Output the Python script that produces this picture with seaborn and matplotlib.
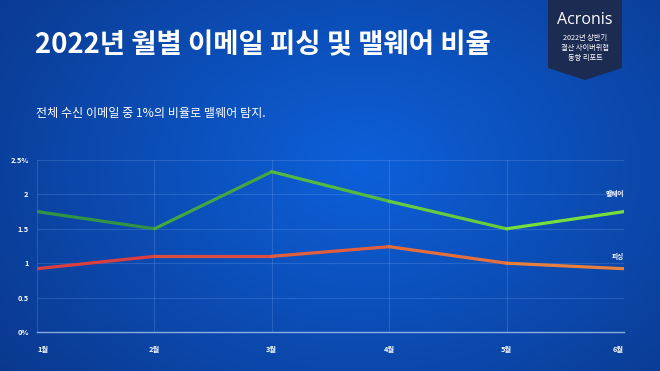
import numpy as np
import pandas as pd
import matplotlib
matplotlib.use("Agg")
import matplotlib.pyplot as plt
import seaborn as sns
from matplotlib.colors import to_rgb
from matplotlib.patches import Polygon

months = ["1월", "2월", "3월", "4월", "5월", "6월"]
malware = [1.75, 1.50, 2.33, 1.90, 1.50, 1.75]
phishing = [0.92, 1.10, 1.10, 1.24, 1.00, 0.92]
ytick_vals = [0, 0.5, 1, 1.5, 2, 2.5]
ytick_labels = ["0%", "0.5", "1", "1.5", "2", "2.5%"]

title = "2022년 월별 이메일 피싱 및 맬웨어 비율"
subtitle = "전체 수신 이메일 중 1%의 비율로 맬웨어 탐지."

sns.set_theme(style="white")
plt.rcParams['font.family'] = ['Noto Sans CJK KR', 'DejaVu Sans']

fig = plt.figure(figsize=(6.6, 3.71), dpi=100)

# background radial gradient
bg = fig.add_axes([0, 0, 1, 1], zorder=-10)
bg.axis("off")
H, W = 371, 660
yy, xx = np.mgrid[0:H, 0:W]
cx, cy = 0.55 * W, 0.45 * H
d = np.sqrt(((xx - cx) / W) ** 2 + ((yy - cy) / (H * 1.3)) ** 2)
d = np.clip(d / 0.75, 0, 1)
c_center = np.array(to_rgb("#0d60da"))
c_edge = np.array(to_rgb("#0a3587"))
img = c_center[None, None, :] * (1 - d[..., None]) + c_edge[None, None, :] * d[..., None]
bg.imshow(img, aspect="auto", extent=[0, 1, 0, 1], origin="upper")
bg.set_xlim(0, 1)
bg.set_ylim(0, 1)

# badge
badge = Polygon([[548/660, 1], [622/660, 1], [622/660, 1-68/371], [585/660, 1-80/371], [548/660, 1-68/371]],
                closed=True, transform=fig.transFigure, facecolor="#1c2b52", edgecolor="none", zorder=1)
fig.patches.append(badge)
fig.text(585/660, 1-20/371, "Acronis", color="white", fontsize=11.5, ha="center", va="center",
         family=['Open Sans', 'DejaVu Sans'])
fig.text(585/660, 1-38/371, "2022년 상반기", color="white", fontsize=5.2, ha="center", va="center")
fig.text(585/660, 1-48/371, "결산 사이버위협", color="white", fontsize=5.2, ha="center", va="center")
fig.text(585/660, 1-58/371, "동향 리포트", color="white", fontsize=5.2, ha="center", va="center")

fig.text(35/660, 1-45/371, title, color="white", fontsize=19.8, fontweight="bold", ha="left", va="center")
fig.text(36/660, 1-113/371, subtitle, color="white", fontsize=8.7, ha="left", va="center")

ax = fig.add_axes([37/660, 1-332/371, (624-37)/660, (332-160)/371])
ax.patch.set_alpha(0)

x = np.arange(len(months))

def seg_colors(c0, c1, n):
    c0 = np.array(to_rgb(c0)); c1 = np.array(to_rgb(c1))
    return [tuple(c0 + (c1 - c0) * (i + 0.5) / n) for i in range(n)]

gcols = seg_colors("#2a8a47", "#7ee83a", len(x) - 1)
rcols = seg_colors("#d8363f", "#ea873a", len(x) - 1)
for i in range(len(x) - 1):
    sns.lineplot(x=x[i:i+2], y=malware[i:i+2], ax=ax, color=gcols[i], linewidth=2.3,
                 solid_capstyle="round", zorder=3)
    sns.lineplot(x=x[i:i+2], y=phishing[i:i+2], ax=ax, color=rcols[i], linewidth=2.3,
                 solid_capstyle="round", zorder=3)

ax.set_xlim(0, len(x) - 1)
ax.set_ylim(0, 2.5)
ax.set_yticks(ytick_vals)
ax.set_yticklabels(ytick_labels)
ax.set_xticks(x)
ax.set_xticklabels(months)
ax.tick_params(axis="both", length=0, colors="white", labelsize=5.3)
ax.tick_params(axis="x", pad=10)
ax.tick_params(axis="y", pad=6)
for lab in ax.get_xticklabels() + ax.get_yticklabels():
    lab.set_fontweight("bold")
xl = ax.get_xticklabels()
xl[0].set_horizontalalignment("left")
xl[-1].set_horizontalalignment("right")
ax.set_xlabel("")
ax.set_ylabel("")

grid_c = (0.6, 0.75, 1.0, 0.2)
for v in ytick_vals[1:]:
    ax.axhline(v, color=grid_c, linewidth=0.8, zorder=1)
for xv in x[1:]:
    ax.axvline(xv, color=grid_c, linewidth=0.8, zorder=1)
for s in ["top", "right"]:
    ax.spines[s].set_visible(False)
ax.spines["left"].set_color(grid_c)
ax.spines["left"].set_linewidth(0.8)
ax.spines["bottom"].set_color((0.75, 0.85, 1.0, 0.7))
ax.spines["bottom"].set_linewidth(1.0)

ax.text(x[-1], malware[-1] + 0.27, "맬웨어", color="white", fontsize=4.8, fontweight="bold",
        ha="right", va="center")
ax.text(x[-1], phishing[-1] + 0.18, "피싱", color="white", fontsize=4.8, fontweight="bold",
        ha="right", va="center")

fig.savefig("out.png", dpi=100)
